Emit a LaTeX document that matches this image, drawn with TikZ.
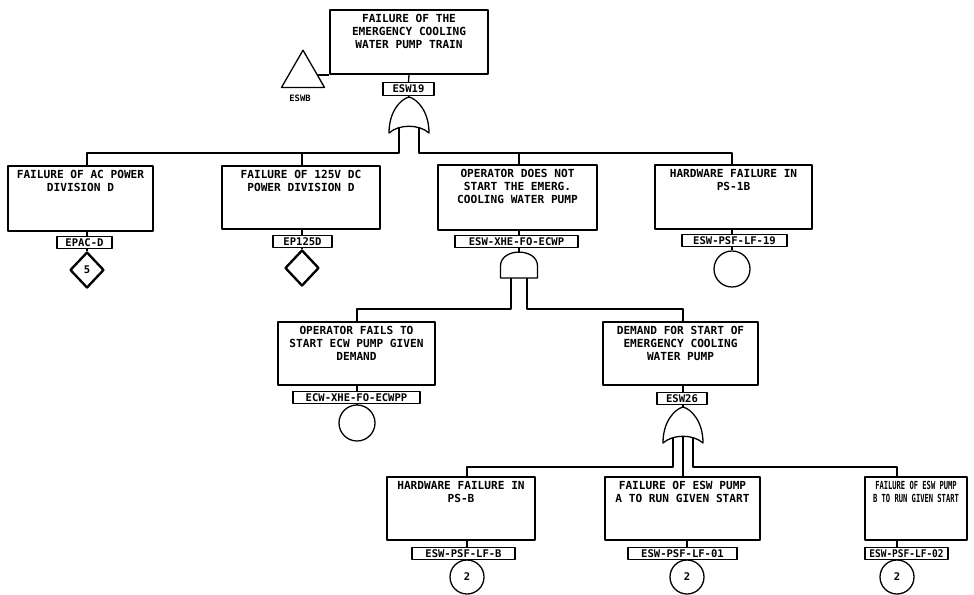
\documentclass[tikz,border=0pt]{standalone}
\usepackage{fontspec}
\newfontfamily\plotfont{DejaVu Sans Mono}
\usetikzlibrary{shapes.geometric}
\begin{document}
\begin{tikzpicture}[x=0.03cm, y=-0.03cm, line width=1.1pt, line join=round,
  evbox/.style 2 args={draw, rectangle, inner sep=0pt,
    minimum width=#1*0.03cm, minimum height=#2*0.03cm},
  evtext/.style={anchor=north, align=center, inner sep=0pt,
    font=\plotfont\bfseries\fontsize{9.5}{11}\selectfont},
  tag/.style={draw, rectangle, inner sep=0pt, minimum width=#1*0.03cm,
    minimum height=12.5*0.03cm, font=\plotfont\bfseries\fontsize{9}{10}\selectfont},
  undev/.style={draw, diamond, inner sep=0pt, line width=2pt,
    minimum width=34*0.03cm, minimum height=36*0.03cm,
    font=\plotfont\bfseries\fontsize{9}{10}\selectfont},
  basic/.style={draw, circle, inner sep=0pt, minimum size=#1*0.03cm,
    font=\plotfont\bfseries\fontsize{9}{10}\selectfont},
  orgate/.pic={\draw (-20,36) .. controls (-20,14) and (-8,2) .. (0,0)
      .. controls (8,2) and (20,14) .. (20,36)
      .. controls (10,27) and (-10,27) .. (-20,36) -- cycle;},
  andgate/.pic={\draw (-18.5,26) -- (-18.5,14) .. controls (-18.5,-4.5) and (18.5,-4.5) .. (18.5,14)
      -- (18.5,26) -- cycle;}]

\path[use as bounding box, fill=white] (0,0) rectangle (974,595);

% ---- top event ----
\node[evbox={158}{64}] (T) at (409,42) {};
\node[evtext] (Tt) at ([yshift=-4pt]T.north) {FAILURE OF THE\\EMERGENCY COOLING\\WATER PUMP TRAIN};
\node[tag=51] (Tl) at (408.5,89) {ESW19};
\node[draw, regular polygon, regular polygon sides=3, inner sep=0pt,
      minimum size=49.6*0.03cm] (tri) at (303,75) {};
\node[font=\plotfont\bfseries\fontsize{7.5}{8}\selectfont, inner sep=0pt] (trit) at (300,98) {ESWB};
\draw (tri.east) -- (tri.east -| T.west);

\coordinate (g1) at (409,97);
\pic at (g1) {orgate};
\coordinate (g1a) at (399,128);
\coordinate (g1b) at (419,128);
\coordinate (bar1) at (0,153);
\draw (T.south) -- (Tl.north);
\draw (Tl.south) -- (g1);

% ---- first level ----
\node[evbox={145}{65}] (A) at (80.5,198.5) {};
\node[evtext] (At) at ([yshift=-4pt]A.north) {FAILURE OF AC POWER\\DIVISION D};
\node[tag=55] (Al) at (84.5,242.5) {EPAC-D};
\node[undev] (Adia) at (87,270) {5};

\node[evbox={158}{63}] (B) at (301,197.5) {};
\node[evtext] (Bt) at ([yshift=-4pt]B.north) {FAILURE OF 125V DC\\POWER DIVISION D};
\node[tag=59] (Bl) at (302.5,241.5) {EP125D};
\node[undev] (Bdia) at (302,268) {};

\node[evbox={159}{65}] (C) at (517.5,197.5) {};
\node[evtext] (Ct) at ([yshift=-4pt]C.north) {OPERATOR DOES NOT\\START THE EMERG.\\COOLING WATER PUMP};
\node[tag=123] (Cl) at (516.5,241.5) {ESW-XHE-FO-ECWP};
\coordinate (g2) at (519,252);
\pic at (g2) {andgate};
\coordinate (g2a) at (511,278);
\coordinate (g2b) at (527,278);
\coordinate (bar2) at (0,309);

\node[evbox={157}{64}] (I) at (733.5,197) {};
\node[evtext] (It) at ([yshift=-4pt]I.north) {HARDWARE FAILURE IN\\PS-1B};
\node[tag=105] (Il) at (734.5,240.5) {ESW-PSF-LF-19};
\node[basic=36] (Icirc) at (732,269) {};

\draw (g1a) -- (g1a |- bar1) -| (A.north -| Adia);
\draw (g1a |- bar1) -| (B.north -| Bdia);
\draw (g1b) -- (g1b |- bar1) -| (I.north -| Icirc);
\draw (g1b |- bar1) -| (C.north -| g2);

\draw (A.south -| Adia) -- (Al.north -| Adia);
\draw (Al.south -| Adia) -- (Adia.north);
\draw (B.south -| Bdia) -- (Bl.north -| Bdia);
\draw (Bl.south -| Bdia) -- (Bdia.north);
\draw (C.south -| g2) -- (Cl.north -| g2);
\draw (Cl.south -| g2) -- (g2);
\draw (I.south -| Icirc) -- (Il.north -| Icirc);
\draw (Il.south -| Icirc) -- (Icirc.north);

% ---- second level ----
\node[evbox={157}{63}] (D) at (356.5,353.5) {};
\node[evtext] (Dt) at ([yshift=-4pt]D.north) {OPERATOR FAILS TO\\START ECW PUMP GIVEN\\DEMAND};
\node[tag=127] (Dl) at (356.5,397.5) {ECW-XHE-FO-ECWPP};
\node[basic=36] (Dcirc) at (357,423) {};

\node[evbox={155}{63}] (E) at (680.5,353.5) {};
\node[evtext] (Et) at ([yshift=-4pt]E.north) {DEMAND FOR START OF\\EMERGENCY COOLING\\WATER PUMP};
\node[tag=50] (El) at (682,398.5) {ESW26};
\coordinate (g3) at (683,407);
\pic at (g3) {orgate};
\coordinate (g3a) at (673,438);
\coordinate (g3b) at (693,438);
\coordinate (g3c) at (683,436);
\coordinate (bar3) at (0,467);

\draw (g2a) -- (g2a |- bar2) -| (D.north -| Dcirc);
\draw (g2b) -- (g2b |- bar2) -| (E.north -| g3);
\draw (D.south -| Dcirc) -- (Dl.north -| Dcirc);
\draw (Dl.south -| Dcirc) -- (Dcirc.north);
\draw (E.south -| g3) -- (El.north -| g3);
\draw (El.south -| g3) -- (g3);

% ---- third level ----
\node[evbox={148}{63}] (F) at (461,508.5) {};
\node[evtext] (Ft) at ([yshift=-4pt]F.north) {HARDWARE FAILURE IN\\PS-B};
\node[tag=103] (Fl) at (463.5,553.5) {ESW-PSF-LF-B};
\node[basic=34] (Fcirc) at (467,577) {2};

\node[evbox={155}{63}] (G) at (682.5,508.5) {};
\node[evtext] (Gt) at ([yshift=-4pt]G.north) {FAILURE OF ESW PUMP\\A TO RUN GIVEN START};
\node[tag=109] (Gl) at (682.5,553.5) {ESW-PSF-LF-01};
\node[basic=34] (Gcirc) at (687,577) {2};

\node[evbox={102}{63}] (H) at (916,508.5) {};
\node[evtext] (Ht) at ([yshift=-4pt]H.north) {\scalebox{0.64}[1]{FAILURE OF ESW PUMP}\\\scalebox{0.64}[1]{B TO RUN GIVEN START}};
\node[tag=83] (Hl) at (906.5,553.5) {\scalebox{0.9}[1]{ESW-PSF-LF-02}};
\node[basic=34] (Hcirc) at (897,577) {2};

\draw (g3a) -- (g3a |- bar3) -| (F.north -| Fcirc);
\draw (g3b) -- (g3b |- bar3) -| (H.north -| Hcirc);
\draw (g3c) -- (G.north -| g3c);
\draw (F.south -| Fcirc) -- (Fl.north -| Fcirc);
\draw (Fl.south -| Fcirc) -- (Fcirc.north);
\draw (G.south -| Gcirc) -- (Gl.north -| Gcirc);
\draw (Gl.south -| Gcirc) -- (Gcirc.north);
\draw (H.south -| Hcirc) -- (Hl.north -| Hcirc);
\draw (Hl.south -| Hcirc) -- (Hcirc.north);
\end{tikzpicture}
\end{document}
